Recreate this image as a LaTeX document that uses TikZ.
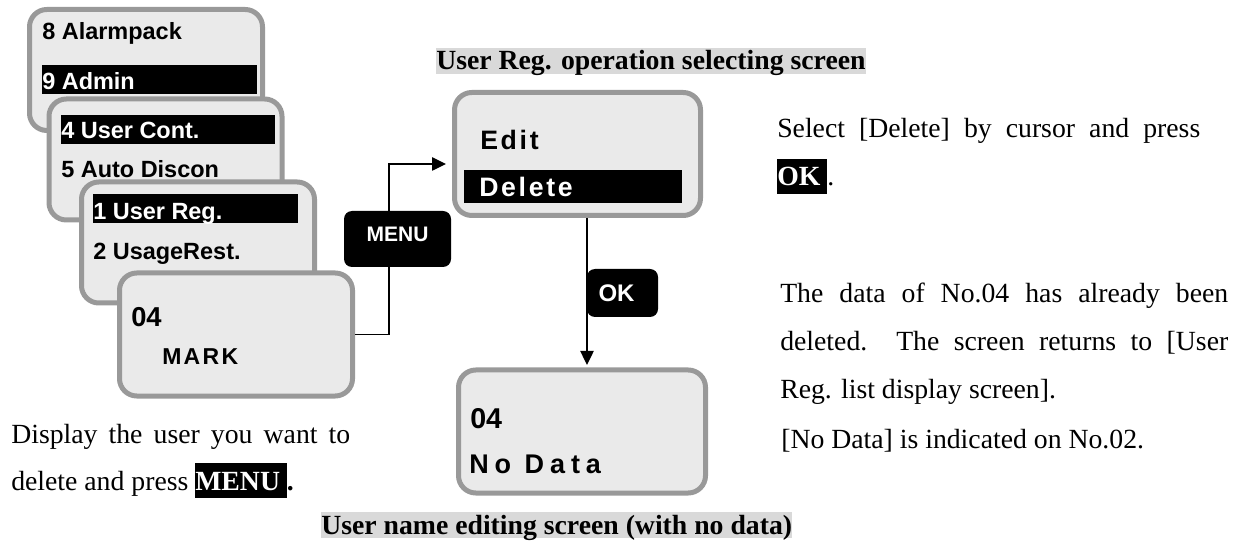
\documentclass[tikz,border=0pt]{standalone}
\usepackage{fontspec}
\setmainfont{Liberation Serif}
\newfontfamily\scr{Liberation Sans}
\newfontfamily\scrA{Liberation Sans}[LetterSpace=10]
\newfontfamily\scrB{Liberation Sans}[LetterSpace=22]
\newfontfamily\scrC{Liberation Sans}[LetterSpace=10]
\usetikzlibrary{arrows.meta}
\definecolor{scrfill}{HTML}{EAEAEA}
\definecolor{scrline}{HTML}{999999}
\definecolor{capgray}{HTML}{D9D9D9}
\newcommand\hlk[1]{{\setlength\fboxsep{0pt}\colorbox{black}{\textcolor{white}{\bfseries\rule[-6pt]{0pt}{26.25pt}#1\ }}}}
\newcommand\stxt{\scr\bfseries\fontsize{17.6}{20}\selectfont}
\begin{document}
\begin{tikzpicture}[x=0.75pt,y=-0.75pt,
 screen/.style={draw=scrline, fill=scrfill, line width=3.75pt, rounded corners=13pt, inner sep=0pt},
 small/.style={screen, minimum width=174.75pt, minimum height=90.75pt},
 big/.style={screen, minimum width=185.25pt, minimum height=92.25pt},
 key/.style={fill=black, text=white, rounded corners=6pt, inner sep=0pt},
 conn/.style={line width=1.1pt, -{Triangle[length=10.5pt,width=10pt]}},
 txt/.style={anchor=base west, inner sep=0pt},
 stx/.style={txt, font=\stxt},
 captxt/.style={txt, fill=capgray, font=\bfseries\fontsize{20.8}{24}\selectfont, text height=16.5pt, text depth=3pt},
 body/.style={txt, font=\fontsize{20.8}{24}\selectfont}]
\useasboundingbox (0,0) rectangle (1244,548);

% stacked menu screens
\node[small] (s1) at (146,70) {};
\node[stx] (s1a) at (42,40) {8 Alarmpack};
\fill (42,65) rectangle (257,94);
\node[stx, text=white] (s1b) at (42,90) {9 Admin};

\node[small] (s2) at (165.5,159.5) {};
\fill (61,115) rectangle (275,144);
\node[stx, text=white] (s2a) at (61,139) {4 User Cont.};
\node[stx] (s2b) at (61,178) {5 Auto Discon};

\node[small] (s3) at (198,242.5) {};
\fill (93,194) rectangle (298,223);
\node[stx, text=white] (s3a) at (93,220) {1 User Reg.};
\node[stx] (s3b) at (93,260) {2 UsageRest.};

\node[small, minimum height=92.25pt] (s4) at (236,334.5) {};
\node[txt, font=\scr\bfseries\fontsize{20.5}{24}\selectfont] (s4a) at (131,327) {04};
\node[txt, font=\scrC\bfseries\fontsize{17.25}{20}\selectfont] (s4b) at (162,365) {MARK};

% operation selecting screen
\node[big, minimum width=184.5pt] (edit) at (577.5,154) {};
\node[txt, font=\scrA\bfseries\fontsize{20}{24}\selectfont] (edita) at (480,150) {Edit};
\fill (464,170) rectangle (682,203);
\node[txt, text=white, font=\scrA\bfseries\fontsize{20}{24}\selectfont] (editb) at (479,197) {Delete};

% no data screen
\node[big] (nodata) at (582,431.5) {};
\node[txt, font=\scr\bfseries\fontsize{21.5}{24}\selectfont] (nda) at (470,428) {04};
\node[txt, font=\scrB\bfseries\fontsize{20.25}{24}\selectfont] (ndb) at (469,473) {No Data};

% connectors
\coordinate (turn) at (389,164);
\coordinate (dropx) at (587,0);
\draw[conn, shorten >=4.5pt] (s4.east) -| (turn) -- (turn -| edit.west);
\draw[conn, shorten >=1.9pt] (edit.south -| dropx) -- (nodata.north -| dropx);

% keys
\node[key, minimum width=80.25pt, minimum height=42pt, text height=11.25pt, text depth=7.5pt,
      font=\scr\bfseries\fontsize{15.75}{18}\selectfont] (menu) at (397.5,239) {MENU};
\node[key, minimum width=53.25pt, minimum height=36pt,
      font=\scr\bfseries\fontsize{18}{22}\selectfont] (ok) at (622.5,293) {OK\hspace*{9pt}};

% captions
\node[captxt] (cap1) at (436,70) {User Reg. operation selecting screen};
\node[captxt] (cap2) at (321,534) {User name editing screen (with no data)};

% left text
\node[body] (l1) at (11,443) {\makebox[254.25pt][s]{Display the user you want to}};
\node[body] (l2) at (11,490) {delete and press \hlk{MENU}\textbf{.}};

% right text
\node[body] (r1) at (777,138) {\makebox[317.25pt][s]{Select [Delete] by cursor and press}};
\node[body] (r2) at (777,186) {\hlk{OK}.};
\node[body] (r3) at (780,303) {\makebox[336pt][s]{The data of No.04 has already been}};
\node[body] (r4) at (780,351) {\makebox[336pt][s]{deleted.\ \ The screen returns to [User}};
\node[body] (r5) at (780,398) {Reg. list display screen].};
\node[body] (r6) at (781,448) {[No Data] is indicated on No.02.};
\end{tikzpicture}
\end{document}
